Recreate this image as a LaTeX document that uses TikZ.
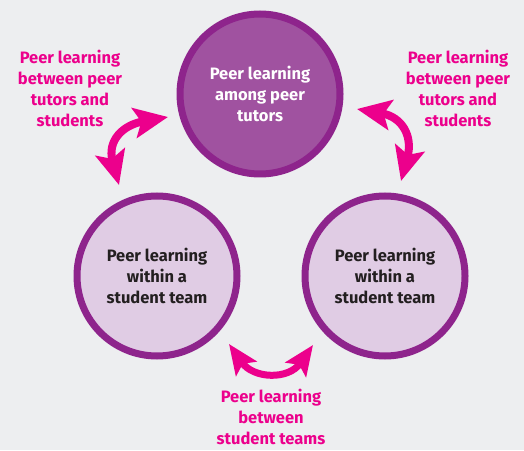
\documentclass[tikz,border=0pt]{standalone}
\usepackage{fontspec}
\setmainfont{Fira Sans}
\usetikzlibrary{arrows.meta}
\definecolor{bg}{RGB}{237,238,240}
\definecolor{pinkc}{RGB}{236,0,140}
\definecolor{purpborder}{RGB}{142,36,140}
\definecolor{topfill}{RGB}{160,82,160}
\definecolor{lowfill}{RGB}{224,204,228}
\definecolor{darktext}{RGB}{35,31,32}
\tikzset{
  circ/.style={circle, draw=purpborder, line width=7pt, minimum size=160pt, inner sep=0pt,
    align=center, font=\fontsize{16.5}{21}\selectfont\bfseries},
  lbl/.style={align=center, text=pinkc, font=\fontsize{16.5}{21}\selectfont\bfseries, inner sep=0pt},
  dblarrow/.style={draw=pinkc, line width=8pt,
    {Stealth[length=34pt,width=30pt,inset=7pt]}-{Stealth[length=34pt,width=30pt,inset=7pt]}},
  smallarrow/.style={draw=pinkc, line width=7pt,
    {Stealth[length=30pt,width=25pt,inset=6pt]}-{Stealth[length=30pt,width=25pt,inset=6pt]}}
}
\begin{document}
\begin{tikzpicture}[x=1pt,y=1pt]
\fill[bg] (0,0) rectangle (524,450);
\useasboundingbox (0,0) rectangle (524,450);
\node[circ, fill=topfill, text=white] (top) at (260,356) {Peer learning\\among peer\\tutors};
\node[circ, fill=lowfill, text=darktext] (left) at (157,174) {Peer learning\\within a\\student team};
\node[circ, fill=lowfill, text=darktext] (right) at (385,174) {Peer learning\\within a\\student team};
\node[lbl] (ltxt) at (70,361.5) {Peer learning\\between peer\\tutors and\\students};
\node[lbl] (rtxt) at (458,361.5) {Peer learning\\between peer\\tutors and\\students};
\node[lbl] (btxt) at (271,33) {Peer learning\\between\\student teams};
\coordinate (la) at (168,333);
\coordinate (lb) at (119,265);
\coordinate (ra) at (357,341);
\coordinate (rb) at (401,269);
\coordinate (ba) at (229,106);
\coordinate (bb) at (313,105);
\draw[dblarrow] (la) to[out=190,in=105,looseness=1.4] (lb);
\draw[dblarrow] (ra) to[out=-10,in=75,looseness=1.4] (rb);
\draw[smallarrow] (ba) to[out=-55,in=235,looseness=1.3] (bb);
\end{tikzpicture}
\end{document}
